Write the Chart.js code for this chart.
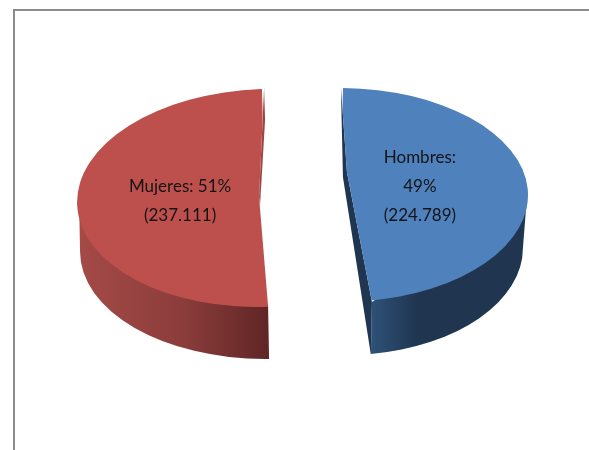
<!DOCTYPE html>
<html>
<head>
<meta charset="utf-8">
<style>html,body{margin:0;padding:0;background:#fff}canvas{display:block}</style>
<script src="https://cdn.jsdelivr.net/npm/chart.js@4"></script>
</head>
<body>
<canvas id="c" width="589" height="450"></canvas>
<script>
// data
const categories = ['Hombres', 'Mujeres'];
const personas = [224789, 237111];
const porcentajes = ['49%', '51%'];
const valoresTexto = ['(224.789)', '(237.111)'];
const labelLines = [
  [categories[0] + ':', porcentajes[0], valoresTexto[0]],
  [categories[1] + ': ' + porcentajes[1], valoresTexto[1]]
];
const faceColors = ['#4f81bd', '#bd504d'];

// 3D view settings (Chart.js moves an arc by a quarter of its offset option)
const explode = 42, squash = 108 / 183, centerY = 196.5, faceScale = 1.01;
const views = [
  { shear: 0, shift: -5, sx: 1.048,
    cut: [[-4,-125],[-4,-108],[2,-23],[27,107],[27,125],[250,125],[250,-125]],
    side: [[-4,-108],[-2,-18],[26,160],[27,107],[2,-23]], sideColor: '#1f3550',
    wall: { cx: 0, cy: 53, rx: 178, ry: 107, endDx: 26, from: 0, ccw: false, edgeX: 182, edgeY: 2, cornerDx: 27, cornerDy: 107,
      stops: [[0,'#2f5177'],[0.07,'#2b4a6e'],[0.3,'#1f3550'],[1,'#1f3550']], gx0: 27, gx1: 183 },
    label: [75, -8.5] },
  { shear: -0.065, shift: 4, sx: 1.026,
    cut: [[3,-125],[3,-110],[-2,-1],[7,108],[7,125],[-250,125],[-250,-125]],
    side: [[3,-110],[4,-78],[-1,7],[-2,-1]], sideColor: '#9c4543',
    wall: { cx: 4, cy: 54, rx: 185, ry: 107, endDx: 8, from: Math.PI, ccw: true, edgeX: -182, edgeY: 2, cornerDx: 7, cornerDy: 108,
      stops: [[0,'#a54a47'],[0.55,'#8b3d3b'],[1,'#5f2625']], gx0: -184, gx1: 8 },
    label: [-81, 3.5] }
];

function polygon(ctx, o, pts) {
  ctx.beginPath();
  pts.forEach((p, i) => i ? ctx.lineTo(o.x + p[0], o.y + p[1]) : ctx.moveTo(o.x + p[0], o.y + p[1]));
  ctx.closePath();
}

const frame = {
  id: 'frame',
  beforeDraw(chart) {
    const ctx = chart.ctx;
    ctx.save();
    ctx.fillStyle = '#8c8c8c';
    ctx.fillRect(13, 9, chart.width - 13, 2);
    ctx.fillRect(13, 9, 2, chart.height - 9);
    ctx.restore();
  }
};

const pie3d = {
  id: 'pie3d',
  beforeDatasetDraw(chart) {
    const ctx = chart.ctx;
    const arcs = chart.getDatasetMeta(0).data;
    arcs.forEach((arc, i) => {
      const v = views[i];
      const mid = (arc.startAngle + arc.endAngle) / 2;
      const off = { x: Math.cos(mid) * explode, y: Math.sin(mid) * explode };
      const o = { x: arc.x + off.x, y: centerY + off.y * squash };
      const w = v.wall;

      // curved wall
      const g = ctx.createLinearGradient(o.x + w.gx0, 0, o.x + w.gx1, 0);
      w.stops.forEach(s => g.addColorStop(s[0], s[1]));
      const endAngle = Math.acos((w.endDx - w.cx) / w.rx);
      ctx.save();
      ctx.fillStyle = g;
      ctx.beginPath();
      ctx.moveTo(o.x + w.edgeX, o.y + w.edgeY);
      ctx.ellipse(o.x + w.cx, o.y + w.cy, w.rx, w.ry, 0, w.from, endAngle, w.ccw);
      ctx.lineTo(o.x + w.cornerDx, o.y + w.cornerDy);
      ctx.closePath();
      ctx.fill();
      // cut wall
      ctx.fillStyle = v.sideColor;
      polygon(ctx, o, v.side);
      ctx.fill();
      ctx.restore();

      // top face: the library's own arc, seen in perspective
      ctx.save();
      polygon(ctx, o, v.cut);
      ctx.clip();
      ctx.translate(arc.x, centerY);
      ctx.transform(1, 0, v.shear * squash, squash, 0, 0);
      ctx.translate(off.x + v.shift, off.y);
      ctx.scale(v.sx, faceScale);
      ctx.translate(-off.x, -off.y);
      ctx.translate(-arc.x, -arc.y);
      arc.draw(ctx);
      ctx.restore();
    });

    // labels
    ctx.save();
    ctx.font = '17px Lato, "Open Sans", sans-serif';
    ctx.fillStyle = '#141414';
    ctx.textAlign = 'center';
    ctx.textBaseline = 'middle';
    arcs.forEach((arc, i) => {
      const mid = (arc.startAngle + arc.endAngle) / 2;
      const x = arc.x + Math.cos(mid) * explode + views[i].label[0];
      const y = centerY + Math.sin(mid) * explode * squash + views[i].label[1];
      const lines = labelLines[i], lh = 29;
      lines.forEach((t, j) => ctx.fillText(t, x, y + (j - (lines.length - 1) / 2) * lh));
    });
    ctx.restore();
    return false;
  }
};

const chart = new Chart(document.getElementById('c'), {
  type: 'pie',
  data: {
    labels: categories,
    datasets: [{ data: personas, backgroundColor: faceColors, borderWidth: 0, offset: explode * 4 }]
  },
  options: {
    responsive: false,
    animation: false,
    rotation: -1,
    layout: { padding: { left: 17, right: 0, top: 0, bottom: 0 } },
    plugins: { legend: { display: false }, tooltip: { enabled: false }, title: { display: false } }
  },
  plugins: [frame, pie3d]
});
</script>
</body>
</html>
